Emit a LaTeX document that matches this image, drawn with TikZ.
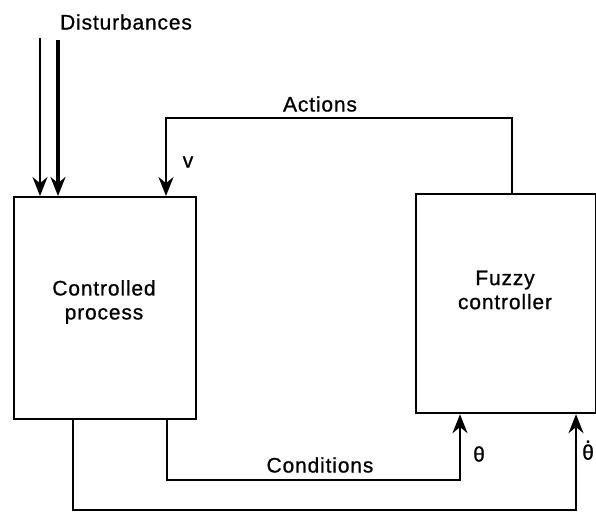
\documentclass[tikz,border=0pt]{standalone}
\usepackage{fontspec}
\setmainfont{Liberation Sans}[LetterSpace=4,FakeBold=0.8]
\usetikzlibrary{arrows.meta}
\newcommand{\dottheta}{{\ooalign{θ\cr\hidewidth\raisebox{0.8em}{.}\hidewidth\cr}}}
\begin{document}
\begin{tikzpicture}[x=1pt,y=-1pt,
  lbl/.style={font=\fontsize{21}{25}\selectfont,inner sep=0pt},
  wire/.style={line width=2.2pt},
  arr/.style={wire,-{Stealth[length=19pt,width=15pt]}}]
\useasboundingbox (0,0) rectangle (596,512);
% boxes
\node[draw,line width=2.2pt,minimum width=182pt,minimum height=222pt,inner sep=0pt,anchor=north west] (cp) at (13,196) {};
\node[lbl,align=center] at (104,302) {Controlled\\[-1pt]process};
\node[draw,line width=2.2pt,minimum width=180pt,minimum height=219pt,inner sep=0pt,anchor=north west] (fc) at (415,193) {};
\node[lbl,align=center] at (505,290) {Fuzzy\\[-1pt]controller};
% disturbances
\node[lbl] (dist) at (126,22) {Disturbances};
\coordinate (d1) at (40,38);
\coordinate (d2) at (58,40);
\draw[arr] (d1) -- (d1 |- cp.north);
\draw[arr,line width=3.2pt] (d2) -- (d2 |- cp.north);
% actions
\coordinate (a1) at (512,118);
\coordinate (a2) at (166,118);
\draw[arr] (a1 |- fc.north) -- (a1) -- (a2) -- (a2 |- cp.north);
\node[lbl] (act) at (320,104) {Actions};
\node[lbl] (v) at (188,162) {v};
% conditions
\coordinate (c1) at (167,480);
\coordinate (c2) at (460,480);
\draw[arr] (c1 |- cp.south) -- (c1) -- (c2) -- (c2 |- fc.south);
\node[lbl] (cond) at (320,465) {Conditions};
\node[lbl] (th) at (479,454) {θ};
% feedback
\coordinate (f1) at (73,510);
\coordinate (f2) at (576,510);
\draw[arr] (f1 |- cp.south) -- (f1) -- (f2) -- (f2 |- fc.south);
\node[lbl,anchor=west] (thd) at (582,452) {\dottheta};
\end{tikzpicture}
\end{document}
